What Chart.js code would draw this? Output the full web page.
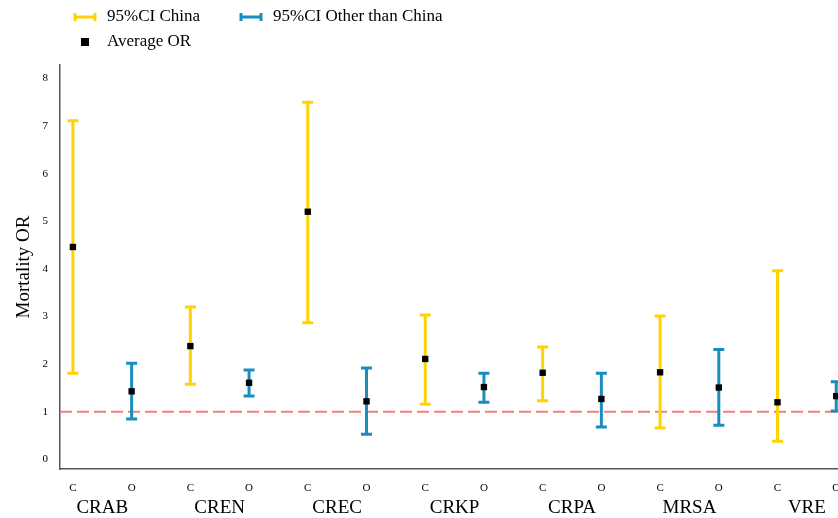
<!DOCTYPE html>
<html>
<head>
<meta charset="utf-8">
<script src="https://cdn.jsdelivr.net/npm/chart.js@4.4.1/dist/chart.umd.min.js"></script>
<style>
  html, body { margin: 0; padding: 0; background: #fff; overflow: hidden; }
  canvas { display: block; }
</style>
</head>
<body>
<canvas id="chart" width="838" height="518"></canvas>
<script>
"use strict";

// groups, each with a China (C) and other-than-China (O) estimate
const groups = ['CRAB', 'CREN', 'CREC', 'CRKP', 'CRPA', 'MRSA', 'VRE'];
const subLabels = ['C', 'O'];

const chinaMean = [4.46, 2.38, 5.20, 2.11, 1.82, 1.83, 1.20];
const chinaLow  = [1.81, 1.58, 2.87, 1.16, 1.23, 0.66, 0.38];
const chinaHigh = [7.11, 3.20, 7.50, 3.03, 2.36, 3.01, 3.96];

const otherMean = [1.43, 1.61, 1.22, 1.52, 1.27, 1.51, 1.33];
const otherLow  = [0.85, 1.33, 0.53, 1.20, 0.68, 0.72, 1.02];
const otherHigh = [2.02, 1.88, 1.92, 1.81, 1.81, 2.31, 1.63];

const yTicks = [0, 1, 2, 3, 4, 5, 6, 7, 8];
const refLine = 1;

const YELLOW = '#FFD200';
const BLUE = '#1A8DC0';
const SERIF = '"Liberation Serif", "Times New Roman", serif';

// positions on the x axis: C of group i at 2i, O at 2i+1
function pointsFor(means, offset) {
  return means.map((v, i) => ({ x: i * 2 + offset, y: v }));
}
const chinaPoints = pointsFor(chinaMean, 0);
const otherPoints = pointsFor(otherMean, 1);

// no extra room for edge labels, the plot runs to the canvas edge
function noEdgePadding(scale) {
  scale.paddingLeft = 0;
  scale.paddingRight = 0;
  scale.paddingTop = 0;
  scale.paddingBottom = 0;
}

const errorBars = {
  id: 'errorBars',
  beforeDatasetsDraw(chart) {
    const { ctx, scales: { x, y }, chartArea } = chart;
    ctx.save();
    // reference line at OR = 1
    ctx.strokeStyle = '#F47C7C';
    ctx.lineWidth = 2;
    ctx.setLineDash([12, 5]);
    const yr = y.getPixelForValue(refLine);
    ctx.beginPath();
    ctx.moveTo(chartArea.left, yr);
    ctx.lineTo(chartArea.right, yr);
    ctx.stroke();
    ctx.setLineDash([]);

    const draw = (lows, highs, offset, color) => {
      ctx.strokeStyle = color;
      ctx.lineWidth = 3;
      ctx.lineCap = 'butt';
      lows.forEach((lo, i) => {
        const px = x.getPixelForValue(i * 2 + offset);
        const y0 = y.getPixelForValue(lo);
        const y1 = y.getPixelForValue(highs[i]);
        ctx.beginPath();
        ctx.moveTo(px, y0);
        ctx.lineTo(px, y1);
        ctx.moveTo(px - 5.5, y0);
        ctx.lineTo(px + 5.5, y0);
        ctx.moveTo(px - 5.5, y1);
        ctx.lineTo(px + 5.5, y1);
        ctx.stroke();
      });
    };
    draw(chinaLow, chinaHigh, 0, YELLOW);
    draw(otherLow, otherHigh, 1, BLUE);
    ctx.restore();
  },
  afterDraw(chart) {
    // legend
    const ctx = chart.ctx;
    ctx.save();
    ctx.font = '17px ' + SERIF;
    ctx.fillStyle = '#000';
    ctx.textBaseline = 'middle';
    const icon = (cx, cy, color) => {
      ctx.strokeStyle = color;
      ctx.lineWidth = 3;
      ctx.beginPath();
      ctx.moveTo(cx - 10, cy);
      ctx.lineTo(cx + 10, cy);
      ctx.moveTo(cx - 10, cy - 4);
      ctx.lineTo(cx - 10, cy + 4);
      ctx.moveTo(cx + 10, cy - 4);
      ctx.lineTo(cx + 10, cy + 4);
      ctx.stroke();
    };
    icon(85, 17, YELLOW);
    ctx.fillText('95%CI China', 107, 17);
    icon(251, 17, BLUE);
    ctx.fillText('95%CI Other than China', 273, 17);
    ctx.fillRect(81, 38, 8, 8);
    ctx.fillText('Average OR', 107, 42);
    ctx.restore();
  }
};

new Chart(document.getElementById('chart'), {
  type: 'scatter',
  data: {
    datasets: [
      {
        label: 'Average OR China',
        data: chinaPoints,
        pointStyle: 'rect',
        pointRadius: 4.5,
        backgroundColor: '#000',
        borderColor: '#000',
        borderWidth: 0
      },
      {
        label: 'Average OR Other',
        data: otherPoints,
        pointStyle: 'rect',
        pointRadius: 4.5,
        backgroundColor: '#000',
        borderColor: '#000',
        borderWidth: 0
      }
    ]
  },
  options: {
    responsive: false,
    animation: false,
    layout: { autoPadding: false, padding: { top: 65, left: 1, right: 0, bottom: 0 } },
    plugins: {
      legend: { display: false },
      tooltip: { enabled: false }
    },
    scales: {
      x: {
        type: 'linear',
        position: 'bottom',
        weight: 1,
        min: -0.22,
        max: 13.03,
        afterBuildTicks(scale) {
          scale.ticks = groups.flatMap((g, i) => [{ value: i * 2 }, { value: i * 2 + 1 }]);
        },
        afterFit(scale) { scale.height = 28; noEdgePadding(scale); },
        grid: { display: false, drawTicks: false },
        border: { display: true, color: '#555', width: 1.5 },
        ticks: {
          padding: 13,
          maxRotation: 0,
          autoSkip: false,
          color: '#000',
          font: { family: SERIF, size: 11 },
          callback: (v) => subLabels[Math.round(v) % 2]
        }
      },
      xGroup: {
        type: 'linear',
        position: 'bottom',
        weight: 2,
        min: -0.22,
        max: 13.03,
        afterBuildTicks(scale) {
          scale.ticks = groups.map((g, i) => ({ value: i * 2 + 0.5 }));
        },
        afterFit(scale) { scale.height = 21; noEdgePadding(scale); },
        grid: { display: false, drawTicks: false },
        border: { display: false },
        ticks: {
          padding: 0,
          maxRotation: 0,
          autoSkip: false,
          color: '#000',
          font: { family: SERIF, size: 19 },
          callback: (v) => groups[Math.round((v - 0.5) / 2)]
        }
      },
      y: {
        min: -0.2,
        max: 8.28,
        afterBuildTicks(scale) {
          scale.ticks = yTicks.map(v => ({ value: v }));
        },
        afterFit(scale) { scale.width = 59; noEdgePadding(scale); },
        grid: { display: false, drawTicks: false },
        border: { display: true, color: '#555', width: 1.5 },
        title: {
          display: true,
          text: 'Mortality OR',
          color: '#000',
          font: { family: SERIF, size: 19 },
          padding: { top: 12, bottom: 0 }
        },
        ticks: {
          padding: 12,
          color: '#000',
          font: { family: SERIF, size: 11 }
        }
      }
    }
  },
  plugins: [errorBars]
});
</script>
</body>
</html>
